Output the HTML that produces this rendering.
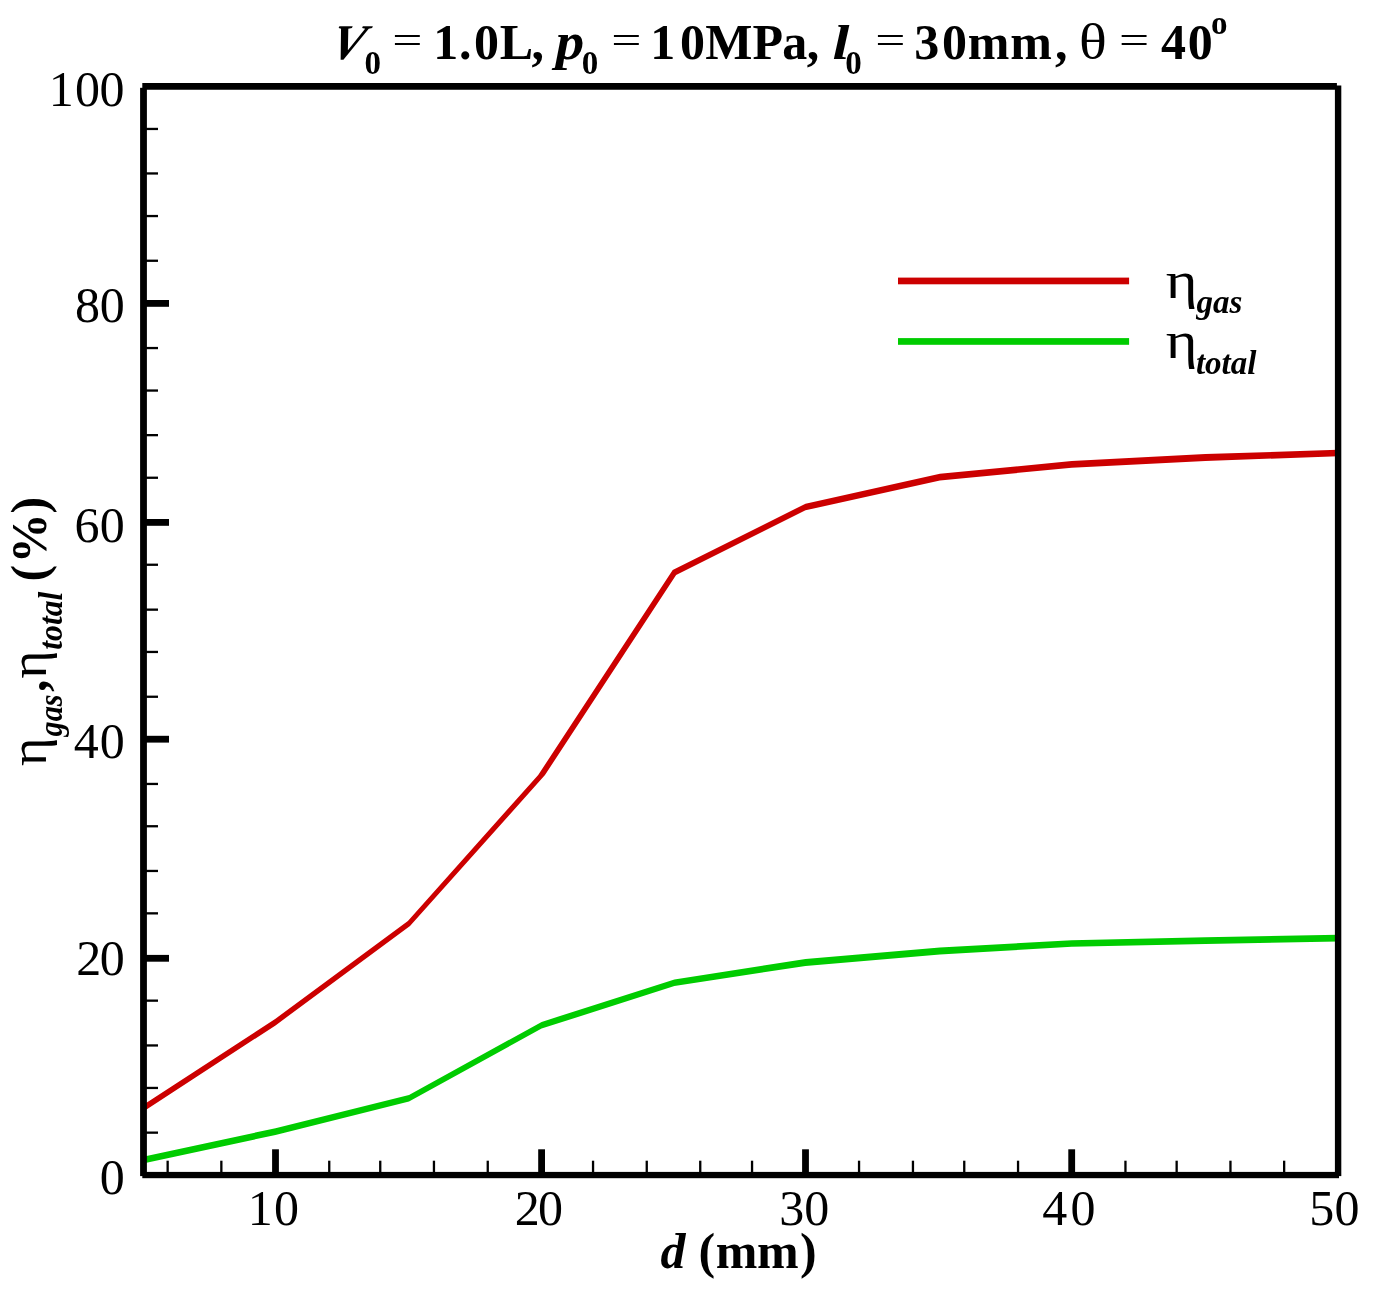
<!DOCTYPE html>
<html lang="en">
<head>
<meta charset="utf-8">
<title>Efficiency vs d</title>
<style>
html,body{margin:0;padding:0;background:#fff;}
body{width:1376px;height:1294px;overflow:hidden;}
svg{display:block;}
svg text{font-family:"Liberation Serif",serif;fill:#000;}
</style>
</head>
<body>
<svg width="1376" height="1294" viewBox="0 0 1376 1294">
<rect x="0" y="0" width="1376" height="1294" fill="#ffffff"/>
<clipPath id="pa"><rect x="143.5" y="86.4" width="1194.6" height="1088.7"/></clipPath>
<g clip-path="url(#pa)">
<path id="cr" fill="#cc0000" d="M142.0,1105.6 L275.5,1018.7 L407.9,920.9 L538.2,775.0 L672.7,570.1 L805.5,503.7 L939.9,473.8 L1071.7,461.1 L1205.4,454.1 L1338.0,449.7 L1338.2,456.3 L1205.4,460.9 L1071.7,467.7 L939.9,480.5 L805.5,510.3 L676.1,575.1 L545.0,775.0 L410.0,926.1 L275.5,1025.4 L145.0,1110.4 Z"/>
<path id="cg" fill="#00cc00" d="M142.8,1156.8 L275.5,1128.2 L409.0,1095.0 L541.6,1021.9 L674.4,979.4 L805.5,959.1 L939.9,947.6 L1071.7,940.2 L1205.4,937.3 L1338.0,934.8 L1338.2,941.4 L1205.4,943.9 L1071.7,946.8 L939.9,954.4 L805.5,965.9 L674.4,986.1 L541.6,1028.6 L409.0,1101.6 L275.5,1135.0 L144.2,1163.2 Z"/>
</g>
<g id="ticks" fill="#000">
<rect x="166.5" y="1160.7" width="2.3" height="12.0"/>
<rect x="220.2" y="1160.7" width="2.3" height="12.0"/>
<rect x="272.1" y="1149.3" width="6.8" height="23.4"/>
<rect x="328.1" y="1160.7" width="2.3" height="12.0"/>
<rect x="379.1" y="1160.7" width="2.3" height="12.0"/>
<rect x="432.8" y="1160.7" width="2.3" height="12.0"/>
<rect x="486.6" y="1160.7" width="2.3" height="12.0"/>
<rect x="538.2" y="1149.3" width="6.8" height="23.4"/>
<rect x="591.9" y="1160.7" width="2.3" height="12.0"/>
<rect x="645.6" y="1160.7" width="2.3" height="12.0"/>
<rect x="699.1" y="1160.7" width="2.3" height="12.0"/>
<rect x="750.9" y="1160.7" width="2.3" height="12.0"/>
<rect x="802.1" y="1149.3" width="6.8" height="23.4"/>
<rect x="857.9" y="1160.7" width="2.3" height="12.0"/>
<rect x="911.8" y="1160.7" width="2.3" height="12.0"/>
<rect x="963.1" y="1160.7" width="2.3" height="12.0"/>
<rect x="1016.9" y="1160.7" width="2.3" height="12.0"/>
<rect x="1068.3" y="1149.3" width="6.8" height="23.4"/>
<rect x="1124.3" y="1160.7" width="2.3" height="12.0"/>
<rect x="1175.5" y="1160.7" width="2.3" height="12.0"/>
<rect x="1229.3" y="1160.7" width="2.3" height="12.0"/>
<rect x="1283.0" y="1160.7" width="2.3" height="12.0"/>
<rect x="145.9" y="1131.5" width="12.1" height="2.3"/>
<rect x="145.9" y="1086.8" width="12.1" height="2.3"/>
<rect x="145.9" y="1044.3" width="12.1" height="2.3"/>
<rect x="145.9" y="999.5" width="12.1" height="2.3"/>
<rect x="145.9" y="954.9" width="23.1" height="6.8"/>
<rect x="145.9" y="912.2" width="12.1" height="2.3"/>
<rect x="145.9" y="869.8" width="12.1" height="2.3"/>
<rect x="145.9" y="825.1" width="12.1" height="2.3"/>
<rect x="145.9" y="782.8" width="12.1" height="2.3"/>
<rect x="145.9" y="735.8" width="23.1" height="6.8"/>
<rect x="145.9" y="695.6" width="12.1" height="2.3"/>
<rect x="145.9" y="650.8" width="12.1" height="2.3"/>
<rect x="145.9" y="608.5" width="12.1" height="2.3"/>
<rect x="145.9" y="563.6" width="12.1" height="2.3"/>
<rect x="145.9" y="519.0" width="23.1" height="6.8"/>
<rect x="145.9" y="476.6" width="12.1" height="2.3"/>
<rect x="145.9" y="434.0" width="12.1" height="2.3"/>
<rect x="145.9" y="389.4" width="12.1" height="2.3"/>
<rect x="145.9" y="346.9" width="12.1" height="2.3"/>
<rect x="145.9" y="300.0" width="23.1" height="6.8"/>
<rect x="145.9" y="259.6" width="12.1" height="2.3"/>
<rect x="145.9" y="214.9" width="12.1" height="2.3"/>
<rect x="145.9" y="172.3" width="12.1" height="2.3"/>
<rect x="145.9" y="127.8" width="12.1" height="2.3"/>
</g>
<g id="frame" fill="#000">
<rect x="140.1" y="87.8" width="6.8" height="1088.3"/>
<rect x="1334.9" y="85.5" width="6.4" height="1090.6"/>
<rect x="142.3" y="83.0" width="1194.6" height="6.75"/>
<rect x="142.3" y="1171.9" width="1196.7" height="6.3"/>
</g>
<rect x="898" y="277.6" width="231.1" height="6.7" fill="#cc0000"/>
<rect x="898" y="338.1" width="231.1" height="6.7" fill="#00cc00"/>
<g id="labels">
<text id="tV" font-size="50" font-weight="bold" font-style="italic" transform="translate(328.0,58.6) skewX(-14)">V</text>
<text id="tV0" x="364.4" y="74.3" font-size="33" font-weight="bold">0</text>
<text id="teq1" font-size="50" transform="translate(392.32,53.2) scale(1.071,0.752)">=</text>
<text id="t10L" x="433.30 458.90 474.10 499.65 531.60" y="58.6" font-size="50" font-weight="bold">1.0L,</text>
<text id="tp" font-size="50" font-weight="bold" font-style="italic" transform="translate(555.85,58.60) scale(1.14,1.04)">p</text>
<text id="tp0" x="581.8" y="74.3" font-size="33" font-weight="bold">0</text>
<text id="teq2" font-size="50" transform="translate(611.32,53.2) scale(1.071,0.752)">=</text>
<text id="t10MPa" x="650.25 680.00 705.25 752.55 782.20 806.80" y="58.6" font-size="50" font-weight="bold">10MPa,</text>
<text id="tl" font-size="50" font-weight="bold" font-style="italic" transform="translate(832.40,58.60) scale(1.22,0.96)">l</text>
<text id="tl0" x="845.3" y="74.3" font-size="33" font-weight="bold">0</text>
<text id="teq3" font-size="50" transform="translate(875.32,53.2) scale(1.071,0.752)">=</text>
<text id="t30mm" x="914.25 941.95 967.80 1010.30 1055.05" y="58.6" font-size="50" font-weight="bold">30mm,</text>
<text id="tth" font-size="50" transform="translate(1078.90,58.60) scale(1.16,1.0)">θ</text>
<text id="teq4" font-size="50" transform="translate(1119.12,53.2) scale(1.071,0.752)">=</text>
<text id="t40" x="1161.00 1187.80" y="58.6" font-size="50" font-weight="bold">40</text>
<text id="tdeg" x="1210.9" y="33.6" font-size="33" font-weight="bold">o</text>
<text id="x10" x="247.75 274.00" y="1225.4" font-size="50">10</text>
<text id="x20" x="514.80 537.95" y="1225.4" font-size="50">20</text>
<text id="x30" x="779.30 804.20" y="1225.4" font-size="50">30</text>
<text id="x40" x="1042.20 1070.40" y="1225.4" font-size="50">40</text>
<text id="x50" x="1309.20 1334.50" y="1225.4" font-size="50">50</text>
<text id="y100" x="48.70 74.95 99.45" y="105.5" font-size="50">100</text>
<text id="y80" x="75.00 99.75" y="322.4" font-size="50">80</text>
<text id="y60" x="74.50 99.80" y="541.5" font-size="50">60</text>
<text id="y40" x="73.70 99.75" y="758.2" font-size="50">40</text>
<text id="y20" x="76.35 99.75" y="974.7" font-size="50">20</text>
<text id="y0" x="99.75" y="1193.9" font-size="50">0</text>
<text id="xd" x="660.5" y="1268.0" font-size="50" font-weight="bold" font-style="italic">d</text>
<text id="xmm" x="698.50 715.65 756.90 799.90" y="1268.0" font-size="50" font-weight="bold">(mm)</text>
<text id="lg_eta1" font-size="52" transform="translate(1165.80,297.60) scale(1.17,1)">η</text>
<text id="lg_gas" x="1196.5" y="313.3" font-size="33" font-weight="bold" font-style="italic">gas</text>
<text id="lg_eta2" font-size="52" transform="translate(1165.80,357.90) scale(1.17,1)">η</text>
<text id="lg_total" x="1195.9" y="373.6" font-size="33" font-weight="bold" font-style="italic">total</text>
<text id="yl_eta1" font-size="52" transform="translate(46.00,766.00) rotate(-90) scale(1.05,1)">η</text>
<text id="yl_gas" font-size="33" font-weight="bold" font-style="italic" transform="translate(62.00,736.50) rotate(-90) scale(0.92,1)">gas</text>
<text id="yl_comma" font-size="50" font-weight="bold" transform="translate(46.00,692.05) rotate(-90)">,</text>
<text id="yl_eta2" font-size="52" transform="translate(46.00,678.50) rotate(-90) scale(1.03,1)">η</text>
<text id="yl_total" font-size="33" font-weight="bold" font-style="italic" transform="translate(61.80,649.70) rotate(-90) scale(0.96,1)">total</text>
<text id="yl_pct" font-size="50" font-weight="bold" x="0.00 18.40 68.20" y="0" transform="translate(46.00,581.60) rotate(-90)">(%)</text>
</g>
</svg>
</body>
</html>
